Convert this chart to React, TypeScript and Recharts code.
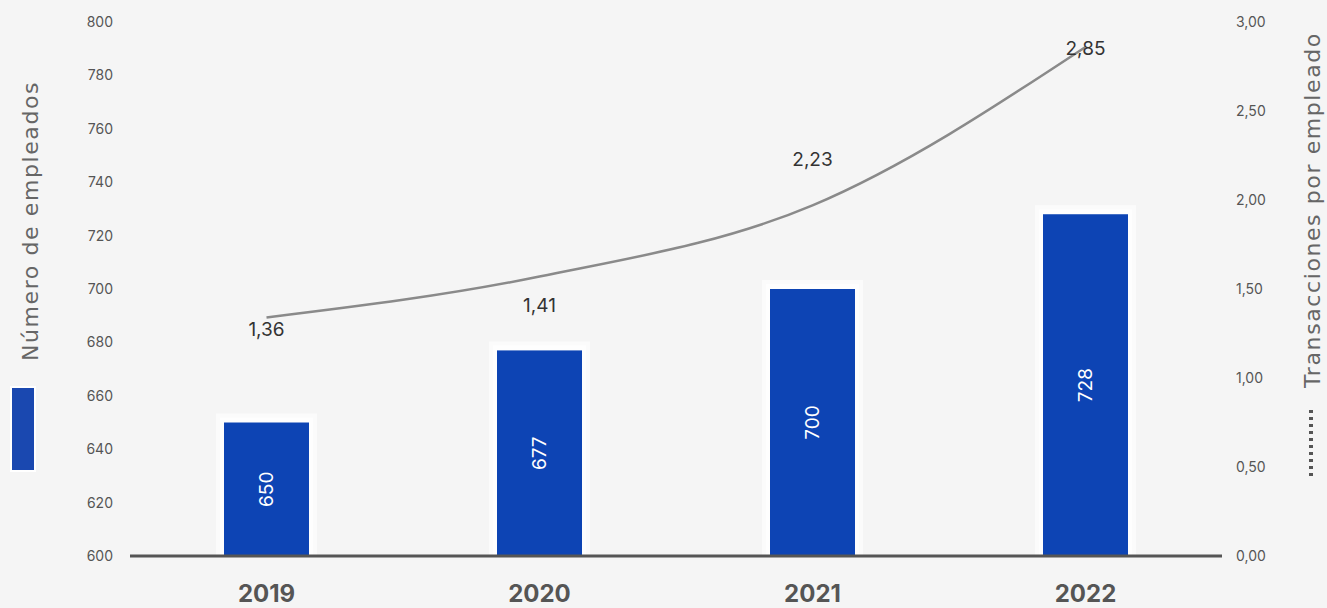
import React from 'react';
import { ComposedChart, Bar, Line, XAxis, YAxis, LabelList } from 'recharts';

const years = ['2019', '2020', '2021', '2022'];
const employees = [650, 677, 700, 728];
const transactions = [1.36, 1.41, 2.23, 2.85];
const trendLine = [1.34, 1.57, 1.97, 2.86];
const leftTicks = [600, 620, 640, 660, 680, 700, 720, 740, 760, 780, 800];
const rightTicks = [0, 0.5, 1, 1.5, 2, 2.5, 3];

const data = years.map((y, i) => ({
  year: y,
  emp: employees[i],
  trans: transactions[i],
  trend: trendLine[i],
}));

const FONT = 'Inter, "Open Sans", sans-serif';
const TITLE_FONT = '"DejaVu Sans", sans-serif';
const fmt = (v: number) => v.toFixed(2).replace('.', ',');

const GlowBar = (props: any) => {
  const { x, y, width, height } = props;
  return (
    <g>
      <rect x={x - 8} y={y - 9} width={width + 16} height={height + 9} fill="#ffffff" opacity={0.6} />
      <rect x={x - 4} y={y - 5} width={width + 8} height={height + 5} fill="#ffffff" opacity={0.7} />
      <rect x={x} y={y} width={width} height={height} fill="#0d44b4" />
    </g>
  );
};

const LineLabel = (props: any) => {
  const { x, y, value, index } = props;
  const dy = index === 0 ? 16 : 0;
  return (
    <text
      x={x}
      y={y + dy}
      textAnchor="middle"
      dominantBaseline="central"
      fill="#333"
      fontSize={19}
      fontFamily={FONT}
    >
      {fmt(Number(value))}
    </text>
  );
};

export default function App() {
  return (
    <div style={{ position: 'absolute', left: 0, top: 0, width: 1327, height: 608, background: '#f5f5f5', fontFamily: FONT }}>
      <ComposedChart
        width={1327}
        height={608}
        data={data}
        margin={{ top: 22, right: 45, left: 70, bottom: 0 }}
        barCategoryGap={0}
      >
        <XAxis
          dataKey="year"
          axisLine={{ stroke: '#555', strokeWidth: 3 }}
          tickLine={false}
          tickSize={0}
          tickMargin={29}
          height={52}
          tick={{ fill: '#555', fontSize: 24, fontWeight: 700, fontFamily: FONT }}
        />
        <YAxis
          yAxisId="left"
          orientation="left"
          domain={[600, 800]}
          ticks={leftTicks}
          width={60}
          axisLine={false}
          tickLine={false}
          tickSize={0}
          tickMargin={17}
          tick={{ fill: '#555', fontSize: 14, fontFamily: FONT }}
        />
        <YAxis
          yAxisId="right"
          orientation="right"
          domain={[0, 3]}
          ticks={rightTicks}
          width={60}
          axisLine={false}
          tickLine={false}
          tickSize={0}
          tickMargin={14}
          tickFormatter={fmt}
          tick={{ fill: '#555', fontSize: 14, fontFamily: FONT, textAnchor: 'start' }}
        />
        <Bar yAxisId="left" dataKey="emp" barSize={85} shape={GlowBar} isAnimationActive={false}>
          <LabelList
            dataKey="emp"
            position="center"
            angle={-90}
            fill="#ffffff"
            fontSize={19}
            fontFamily={FONT}
          />
        </Bar>
        <Line
          yAxisId="right"
          dataKey="trend"
          type="monotone"
          stroke="#8a8a8a"
          strokeWidth={2.5}
          dot={false}
          activeDot={false}
          isAnimationActive={false}
        />
        <Line
          yAxisId="right"
          dataKey="trans"
          stroke="none"
          dot={false}
          activeDot={false}
          isAnimationActive={false}
        >
          <LabelList dataKey="trans" content={LineLabel} />
        </Line>
      </ComposedChart>
      <svg width={1327} height={608} style={{ position: 'absolute', left: 0, top: 0, pointerEvents: 'none' }}>
        <text
          x={30}
          y={221}
          transform="rotate(-90 30 221)"
          textAnchor="middle"
          dominantBaseline="central"
          fill="#666"
          fontSize={22}
          letterSpacing={1.6}
          fontFamily={TITLE_FONT}
        >
          Número de empleados
        </text>
        <rect x={11} y={387} width={24} height={84} fill="#1a48b0" stroke="#ffffff" strokeWidth={2} />
        <text
          x={1312}
          y={210}
          transform="rotate(-90 1312 210)"
          textAnchor="middle"
          dominantBaseline="central"
          fill="#666"
          fontSize={22}
          letterSpacing={1.6}
          fontFamily={TITLE_FONT}
        >
          Transacciones por empleado
        </text>
        <line x1={1311} y1={410} x2={1311} y2={478} stroke="#555" strokeWidth={4} strokeDasharray="3 4" />
      </svg>
    </div>
  );
}
